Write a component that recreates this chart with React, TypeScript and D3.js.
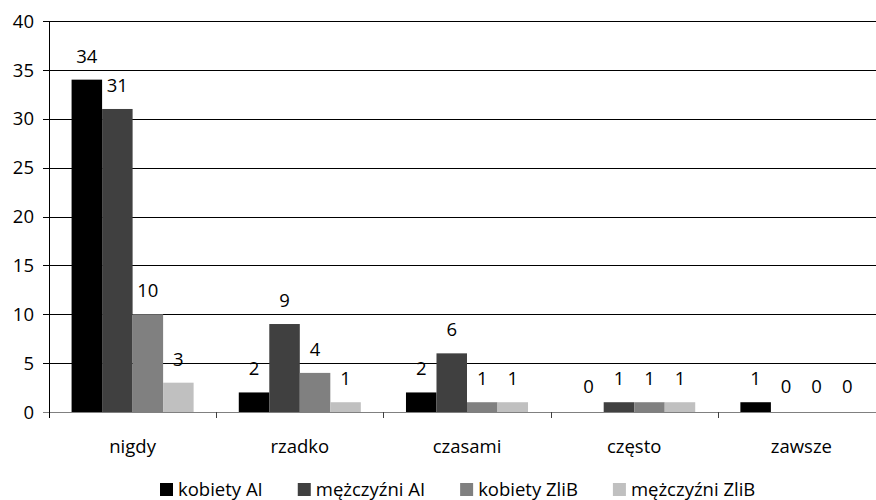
import React, { useEffect, useRef } from "react";
import * as d3 from "d3";

const categories = ["nigdy", "rzadko", "czasami", "często", "zawsze"];
const seriesNames = ["kobiety AI", "mężczyźni AI", "kobiety ZliB", "mężczyźni ZliB"];
const kobietyAI = [34, 2, 2, 0, 1];
const mezczyzniAI = [31, 9, 6, 1, 0];
const kobietyZliB = [10, 4, 1, 1, 0];
const mezczyzniZliB = [3, 1, 1, 1, 0];
const seriesValues = [kobietyAI, mezczyzniAI, kobietyZliB, mezczyzniZliB];
const seriesColors = ["#000000", "#404040", "#808080", "#C0C0C0"];
const yTicks = [0, 5, 10, 15, 20, 25, 30, 35, 40];

const FONT = "'Open Sans', sans-serif";
const FS = 18.5;

export default function App() {
  const ref = useRef<SVGSVGElement | null>(null);

  useEffect(() => {
    const svg = d3.select(ref.current);
    svg.selectAll("*").remove();

    const left = 49;
    const right = 885;
    const top = 21;
    const bottom = 412;

    const x0 = d3.scaleBand<string>().domain(categories).range([left, right]).paddingInner(0).paddingOuter(0);
    const x1 = d3
      .scaleBand<string>()
      .domain(seriesNames)
      .range([0, x0.bandwidth()])
      .paddingInner(0)
      .paddingOuter(0.74);
    const y = d3.scaleLinear().domain([0, 40]).range([bottom, top]);

    const g = svg.append("g");
    g.selectAll("line.grid")
      .data(yTicks.filter((t) => t > 0))
      .enter()
      .append("line")
      .attr("x1", left - 6)
      .attr("x2", right)
      .attr("y1", (d) => Math.round(y(d)) + 0.5)
      .attr("y2", (d) => Math.round(y(d)) + 0.5)
      .attr("stroke", "#000")
      .attr("stroke-width", 1);

    g.selectAll("text.ytick")
      .data(yTicks)
      .enter()
      .append("text")
      .attr("x", 34)
      .attr("y", (d) => y(d))
      .attr("dy", "0.36em")
      .attr("text-anchor", "end")
      .attr("font-family", FONT)
      .attr("font-size", FS)
      .attr("fill", "#000")
      .text((d) => String(d));

    seriesNames.forEach((name, si) => {
      const vals = seriesValues[si];
      g.selectAll(`rect.s${si}`)
        .data(vals)
        .enter()
        .append("rect")
        .attr("x", (_d, i) => (x0(categories[i]) as number) + (x1(name) as number))
        .attr("width", x1.bandwidth())
        .attr("y", (d) => y(d))
        .attr("height", (d) => bottom - y(d))
        .attr("fill", seriesColors[si]);
    });

    g.append("line")
      .attr("x1", left - 6)
      .attr("x2", right)
      .attr("y1", bottom + 0.5)
      .attr("y2", bottom + 0.5)
      .attr("stroke", "#808080")
      .attr("stroke-width", 1.2);

    g.selectAll("line.ctick")
      .data(categories.slice(1))
      .enter()
      .append("line")
      .attr("x1", (d) => Math.round(x0(d) as number) + 0.5)
      .attr("x2", (d) => Math.round(x0(d) as number) + 0.5)
      .attr("y1", bottom)
      .attr("y2", bottom + 6)
      .attr("stroke", "#404040")
      .attr("stroke-width", 1);

    g.append("line")
      .attr("x1", left + 0.5)
      .attr("x2", left + 0.5)
      .attr("y1", top)
      .attr("y2", bottom + 6)
      .attr("stroke", "#000")
      .attr("stroke-width", 1);

    seriesNames.forEach((name, si) => {
      const vals = seriesValues[si];
      g.selectAll(`text.v${si}`)
        .data(vals)
        .enter()
        .append("text")
        .attr("x", (_d, i) => (x0(categories[i]) as number) + (x1(name) as number) + x1.bandwidth() / 2)
        .attr("y", (d) => y(d) - (d === 0 ? 19 : 17))
        .attr("text-anchor", "middle")
        .attr("font-family", FONT)
        .attr("font-size", FS)
        .attr("fill", "#000")
        .text((d) => String(d));
    });

    g.selectAll("text.cat")
      .data(categories)
      .enter()
      .append("text")
      .attr("x", (d) => (x0(d) as number) + x0.bandwidth() / 2)
      .attr("y", 453)
      .attr("text-anchor", "middle")
      .attr("font-family", FONT)
      .attr("font-size", FS)
      .attr("fill", "#000")
      .text((d) => d);

    const lg = svg.append("g");
    let lx = 160;
    seriesNames.forEach((name, si) => {
      lg.append("rect")
        .attr("x", lx)
        .attr("y", 483)
        .attr("width", 13)
        .attr("height", 13)
        .attr("fill", seriesColors[si]);
      const t = lg
        .append("text")
        .attr("x", lx + 18)
        .attr("y", 496)
        .attr("font-family", FONT)
        .attr("font-size", FS)
        .attr("fill", "#000")
        .text(name);
      const w = (t.node() as SVGTextElement).getComputedTextLength();
      lx = lx + 18 + w + 35;
    });
  }, []);

  return (
    <svg
      ref={ref}
      width={876}
      height={500}
      style={{ position: "absolute", left: 0, top: 0, background: "#fff" }}
    />
  );
}
